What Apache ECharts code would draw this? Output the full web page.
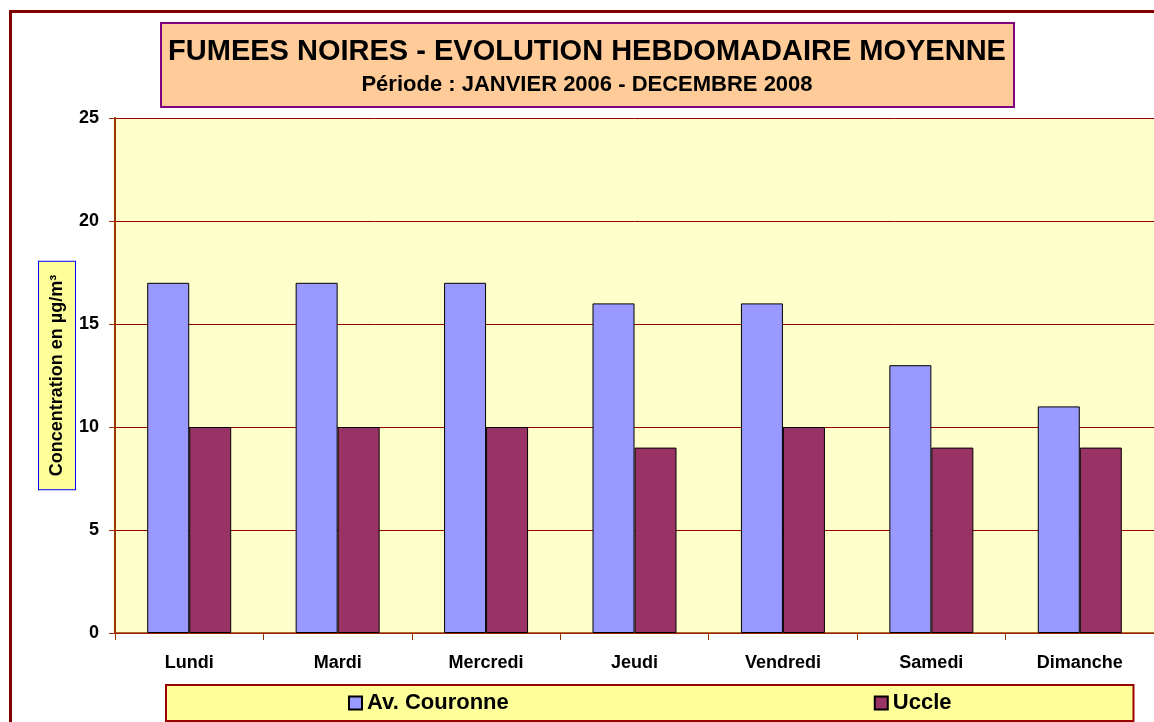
<!DOCTYPE html>
<html>
<head>
<meta charset="utf-8">
<script src="https://cdn.jsdelivr.net/npm/echarts@6/dist/echarts.min.js"></script>
<style>
    html, body { margin: 0; padding: 0; background: #ffffff; }
    #chart { width: 1154px; height: 722px; }
</style>
</head>
<body>
<div id="chart"></div>
<script>
// jours de la semaine
const days = ['Lundi', 'Mardi', 'Mercredi', 'Jeudi', 'Vendredi', 'Samedi', 'Dimanche'];
// moyennes hebdomadaires (µg/m³)
const couronne = [17, 17, 17, 16, 16, 13, 11];
const uccle = [10, 10, 10, 9, 10, 9, 9];
const seriesNames = ['Av. Couronne', 'Uccle'];
const yTicks = [0, 5, 10, 15, 20, 25];

const font = 'Arial, "Liberation Sans", sans-serif';
const myChart = echarts.init(document.getElementById('chart'));

const option = {
    backgroundColor: '#ffffff',
    animation: false,
    title: {
        text: 'FUMEES NOIRES - EVOLUTION HEBDOMADAIRE MOYENNE',
        subtext: 'Période : JANVIER 2006 - DECEMBRE 2008',
        left: 580,
        top: 23,
        textAlign: 'center',
        padding: [14, 8, 11, 7],
        itemGap: 8,
        backgroundColor: '#FFCC99',
        borderColor: '#800080',
        borderWidth: 2,
        textStyle: { fontFamily: font, fontWeight: 'bold', fontSize: 29, color: '#000' },
        subtextStyle: { fontFamily: font, fontWeight: 'bold', fontSize: 22, color: '#000' }
    },
    legend: {
        data: seriesNames,
        icon: 'rect',
        left: 166,
        top: 685,
        padding: [7, 182, 7, 182],
        itemGap: 365,
        itemWidth: 13,
        itemHeight: 13,
        backgroundColor: '#FFFF99',
        borderColor: '#990000',
        borderWidth: 2,
        textStyle: { fontFamily: font, fontWeight: 'bold', fontSize: 22, color: '#000' }
    },
    grid: {
        left: 115,
        right: 0,
        top: 118,
        bottom: 89,
        show: true,
        backgroundColor: '#FFFFCC',
        borderWidth: 0
    },
    xAxis: {
        type: 'category',
        data: days,
        axisLine: { lineStyle: { color: '#993300', width: 1.5 } },
        axisTick: { show: true, length: 7, lineStyle: { color: '#993300' } },
        axisLabel: { margin: 21, fontFamily: font, fontWeight: 'bold', fontSize: 18, color: '#000' }
    },
    yAxis: {
        type: 'value',
        min: yTicks[0],
        max: yTicks[yTicks.length - 1],
        interval: 5,
        name: 'Concentration en µg/m³',
        nameLocation: 'middle',
        nameRotate: 90,
        nameGap: 40,
        nameMoveOverlap: false,
        nameTextStyle: {
            fontFamily: font,
            fontWeight: 'bold',
            fontSize: 18,
            color: '#000',
            backgroundColor: '#FFFF99',
            borderColor: '#0000FF',
            borderWidth: 1,
            padding: [9, 13, 9, 13]
        },
        axisLine: { show: true, lineStyle: { color: '#993300', width: 2 } },
        axisTick: { show: true, length: 6, lineStyle: { color: '#993300' } },
        axisLabel: { margin: 16, fontFamily: font, fontWeight: 'bold', fontSize: 18, color: '#000' },
        splitLine: { show: true, lineStyle: { color: '#990000', width: 1 } }
    },
    series: [
        {
            name: seriesNames[0],
            type: 'bar',
            data: couronne,
            barWidth: 42,
            barGap: '0%',
            itemStyle: { color: '#9999FF', borderColor: '#000', borderWidth: 1 }
        },
        {
            name: seriesNames[1],
            type: 'bar',
            data: uccle,
            barWidth: 42,
            barGap: '0%',
            itemStyle: { color: '#993366', borderColor: '#000', borderWidth: 1 }
        }
    ],
    graphic: [
        {
            type: 'rect',
            z: 100,
            silent: true,
            shape: { x: 10.5, y: 11.5, width: 1300, height: 900 },
            style: { fill: 'none', stroke: '#800000', lineWidth: 3 }
        }
    ]
};

myChart.setOption(option);
window.addEventListener('resize', () => myChart.resize());
</script>
</body>
</html>
